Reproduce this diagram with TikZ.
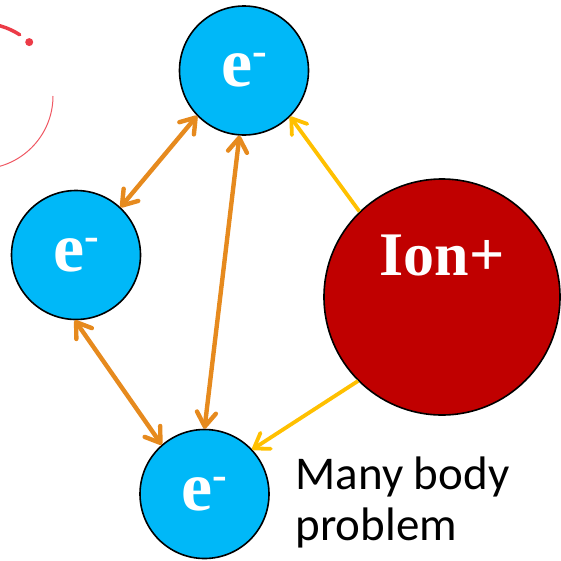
\documentclass[tikz,border=0pt]{standalone}
\usepackage{fontspec}
\setmainfont{Liberation Serif}
\newfontfamily\calibri{Carlito}
\usetikzlibrary{arrows.meta}

\definecolor{eblue}{HTML}{00B8F8}
\definecolor{ionred}{HTML}{C00000}
\definecolor{pairorange}{HTML}{E68A1E}
\definecolor{ionyellow}{HTML}{FFC000}
\definecolor{spinred}{HTML}{EC3B47}

\newcommand{\elec}{e\raisebox{0.3em}{\fontsize{44}{44}\selectfont -}}

\begin{document}
\begin{tikzpicture}[x=1pt, y=1pt,
  electron/.style={circle, draw=black, line width=1.6pt, fill=eblue,
    minimum size=129pt, inner sep=0pt, text=white,
    font=\fontsize{70}{70}\selectfont\bfseries},
  ionball/.style={circle, draw=black, line width=1.6pt, fill=ionred,
    minimum size=236pt, inner sep=0pt},
  pair/.style={draw=pairorange, line width=4.4pt,
    {Straight Barb[length=14pt, width=19pt, round]}-{Straight Barb[length=14pt, width=19pt, round]}},
  pull/.style={draw=ionyellow, line width=3.8pt,
    -{Straight Barb[length=14pt, width=19pt, round]}}]
  \useasboundingbox (0,0) rectangle (561,-560);
  \clip (0,0) rectangle (561,-560);

  % Spinner arcs (top left)
  \draw[spinred, line width=3.5pt, line cap=round] (-20,-96) ++(90:73) arc[start angle=90, end angle=57, radius=73];
  \fill[spinred] (-20,-96) ++(47.6:73) circle[radius=4];
  \draw[spinred!85, line width=1pt] (-20,-96) ++(0:73) arc[start angle=0, end angle=-90, radius=73];

  % Electrons
  \node[electron] (etop) at (244,-70.5) {\elec};
  \node[electron] (eleft) at (76,-255) {\elec};
  \node[electron] (ebot) at (204.5,-494) {\elec};

  % Ion
  \node[ionball, label={[text=white, font=\fontsize{62}{62}\selectfont\bfseries, yshift=42pt]center:Ion+}] (ion) at (442,-297) {};

  % Electron-electron interaction
  \foreach \a/\b in {etop.224/eleft.47, etop.266/ebot.90, eleft.269/ebot.131} {
    \draw[pair] (\a) -- (\b);
  }

  % Ion-electron attraction
  \draw[pull] (ion.134) -- (etop.-45);
  \draw[pull] (ion.225) -- (ebot.43);

  % Caption
  \node[anchor=base west, align=left, font=\calibri\fontsize{47}{51}\selectfont] (caption) at (292,-540) {Many body\\problem};
\end{tikzpicture}
\end{document}
